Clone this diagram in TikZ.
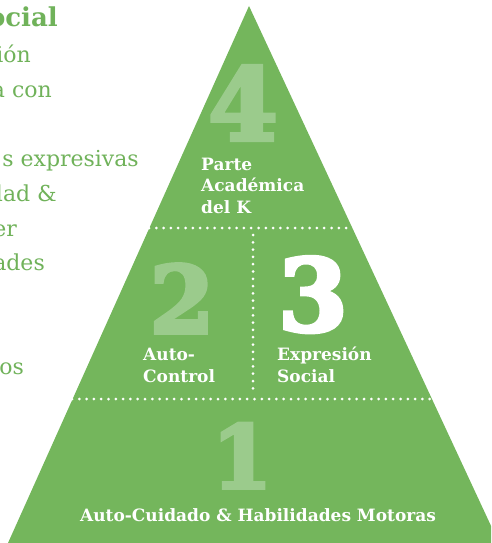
\documentclass[tikz,border=0pt]{standalone}
\usepackage{fontspec}
\setmainfont{DejaVu Serif}
\newfontfamily\numfont[FakeBold=4]{DejaVu Serif Bold}
\definecolor{pgreen}{RGB}{116,182,92}
\definecolor{lgreen}{RGB}{155,203,140}
\definecolor{tgreen}{RGB}{112,178,90}
\begin{document}
\begin{tikzpicture}[x=1pt,y=-1pt,
  lefttxt/.style={anchor=base east, text=tgreen, font=\fontsize{22}{22}\selectfont, inner sep=0pt},
  lbl/.style={anchor=base west, text=white, align=left, font=\bfseries\fontsize{17}{21.5}\selectfont, inner sep=0pt},
  bignum/.style={anchor=base, inner sep=0pt},
  dotline/.style={draw=white, line width=3pt, line cap=round, dash pattern=on 0pt off 7.3pt}]
\useasboundingbox (0,0) rectangle (491,543);
\clip (0,0) rectangle (491,543);
% text behind the pyramid
\node[lefttxt, font=\bfseries\fontsize{26}{26}\selectfont] (t0) at (58,27) {ocial};
\node[lefttxt] (t1) at (31,63) {ión};
\node[lefttxt] (t2) at (52,97) {a con};
\node[lefttxt] (t3) at (139,166) {s expresivas};
\node[lefttxt] (t4) at (57,201) {dad \&};
\node[lefttxt] (t5) at (17,236) {er};
\node[lefttxt] (t6) at (45,270) {ades};
\node[lefttxt] (t7) at (24,374) {os};
% pyramid
\coordinate (apex) at (249,6);
\coordinate (bl) at (8,543);
\coordinate (br) at (499,543);
\fill[pgreen] (apex) -- (bl) -- (br) -- cycle;
% dotted separators
\coordinate (h1a) at (149,228);
\coordinate (h1b) at (352,228);
\coordinate (v1a) at (253,235);
\coordinate (v1b) at (253,393);
\coordinate (h2a) at (72,399);
\coordinate (h2b) at (434,399);
\draw[dotline] (h1a) -- (h1b);
\draw[dotline] (v1a) -- (v1b);
\draw[dotline] (h2a) -- (h2b);
% big numbers
\node[bignum, text=lgreen, font=\numfont\fontsize{100}{100}\selectfont] (n4) at (243,140) {4};
\node[bignum, text=lgreen, font=\numfont\fontsize{93}{93}\selectfont] (n2) at (182,333) {2};
\node[bignum, text=white, font=\numfont\fontsize{100}{100}\selectfont] (n3) at (313,331) {3};
\node[bignum, text=lgreen, font=\numfont\fontsize{87}{87}\selectfont] (n1) at (242,488) {1};
% labels
\node[lbl] (l4) at (201,213) {Parte\\Académica\\del K};
\node[lbl] (l2) at (143,382) {Auto-\\Control};
\node[lbl] (l3) at (277,382) {Expresión\\Social};
\node[lbl, anchor=base] (l1) at (258,521) {Auto-Cuidado \& Habilidades Motoras};
\end{tikzpicture}
\end{document}
